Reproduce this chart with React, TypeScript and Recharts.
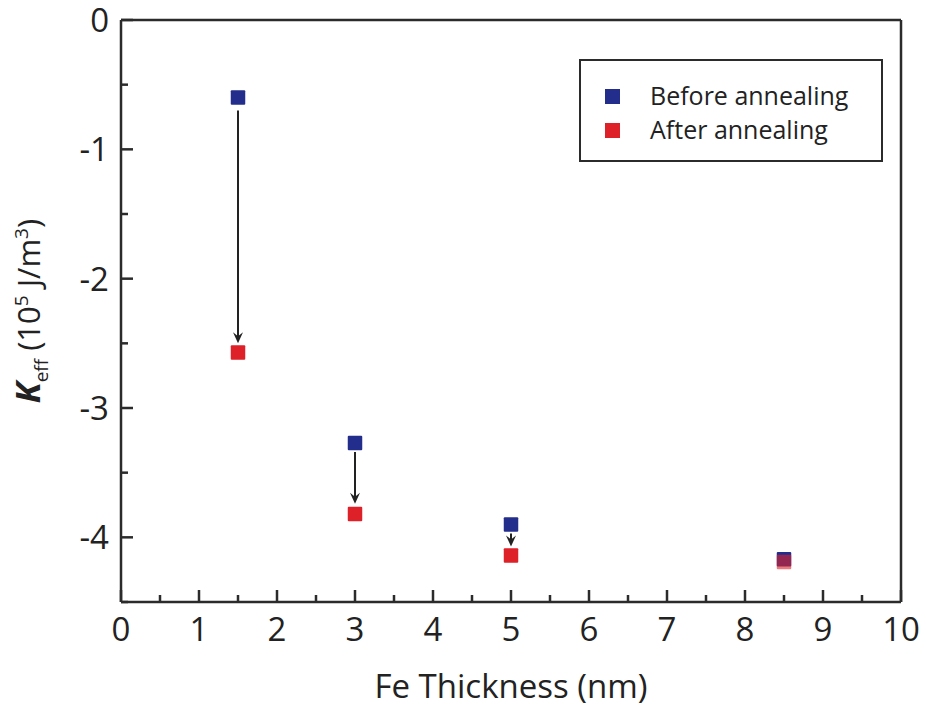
import React from "react";
import {
  ScatterChart,
  Scatter,
  XAxis,
  YAxis,
  ReferenceLine,
  Legend,
  Cell,
} from "recharts";

const thickness = [1.5, 3, 5, 8.5];
const beforeValues = [-0.6, -3.27, -3.9, -4.17];
const afterValues = [-2.57, -3.82, -4.14, -4.19];
const arrowFrom = [-0.7, -3.34, -3.97];
const arrowTo = [-2.5, -3.74, -4.07];
const xTicks = [0, 0.5, 1, 1.5, 2, 2.5, 3, 3.5, 4, 4.5, 5, 5.5, 6, 6.5, 7, 7.5, 8, 8.5, 9, 9.5, 10];
const yTicks = [0, -0.5, -1, -1.5, -2, -2.5, -3, -3.5, -4, -4.5];

const BLUE = "#232E8C";
const RED = "#DE2128";
const AXIS = "#2b2b2b";
const FONT = "'Open Sans', sans-serif";

const beforeData = thickness.map((x, i) => ({ x, y: beforeValues[i] }));
const afterData = thickness.map((x, i) => ({ x, y: afterValues[i] }));

const SquareShape = (props: any) => {
  const { cx, cy, fill, fillOpacity } = props;
  if (cx == null || cy == null) return null;
  const s = 14.5;
  return (
    <rect
      x={cx - s / 2}
      y={cy - s / 2}
      width={s}
      height={s}
      rx={1}
      fill={fill}
      fillOpacity={fillOpacity}
    />
  );
};

const XTick = (props: any) => {
  const { x, y, payload } = props;
  const v = payload.value;
  const major = Math.abs(v - Math.round(v)) < 1e-6;
  return (
    <g>
      <line x1={x} y1={y} x2={x} y2={y - (major ? 12 : 7)} stroke={AXIS} strokeWidth={2.5} />
      {major && (
        <text x={x} y={y + 39} textAnchor="middle" fontFamily={FONT} fontSize={33} fill="#222">
          {String(v)}
        </text>
      )}
    </g>
  );
};

const YTick = (props: any) => {
  const { x, y, payload } = props;
  const v = payload.value;
  const major = Math.abs(v - Math.round(v)) < 1e-6;
  return (
    <g>
      <line x1={x} y1={y} x2={x + (major ? 12 : 7)} y2={y} stroke={AXIS} strokeWidth={2.5} />
      {major && (
        <text x={x - 12} y={y + 12} textAnchor="end" fontFamily={FONT} fontSize={33} fill="#222">
          {String(v)}
        </text>
      )}
    </g>
  );
};

const ArrowShape = (props: any) => {
  const { x1, y1, x2, y2 } = props;
  if (x1 == null) return null;
  return (
    <g>
      <line x1={x1} y1={y1} x2={x2} y2={y2 - 6} stroke="#222" strokeWidth={2} />
      <polygon
        points={`${x2},${y2} ${x2 - 5},${y2 - 11} ${x2},${y2 - 7} ${x2 + 5},${y2 - 11}`}
        fill="#222"
      />
    </g>
  );
};

const YLabel = (props: any) => {
  const vb = props.viewBox || { x: 0, y: 20, width: 121, height: 582 };
  const cx = 40;
  const cy = vb.y + vb.height / 2;
  return (
    <text
      x={cx}
      y={cy}
      textAnchor="middle"
      transform={`rotate(-90 ${cx} ${cy})`}
      fontFamily={FONT}
      fontSize={31}
      fill="#222"
    >
      <tspan fontWeight="bold" fontStyle="italic" fontSize={34}>K</tspan>
      <tspan fontSize={19} dy={8}>eff</tspan>
      <tspan dy={-8}> (10</tspan>
      <tspan fontSize={19} dy={-12}>5</tspan>
      <tspan dy={12}> J/m</tspan>
      <tspan fontSize={19} dy={-12}>3</tspan>
      <tspan dy={12}>)</tspan>
    </text>
  );
};

const XLabel = (props: any) => {
  const vb = props.viewBox || { x: 121, y: 602, width: 780, height: 109 };
  return (
    <text
      x={vb.x + vb.width / 2}
      y={vb.y + 96}
      textAnchor="middle"
      fontFamily={FONT}
      fontSize={33}
      fill="#222"
    >
      Fe Thickness (nm)
    </text>
  );
};

const LegendBox = () => (
  <div
    style={{
      width: 304,
      height: 103,
      border: `2.5px solid ${AXIS}`,
      boxSizing: "border-box",
      background: "#fff",
      fontFamily: FONT,
      fontSize: 25,
      color: "#222",
      position: "relative",
    }}
  >
    {[
      { label: "Before annealing", color: BLUE, top: 35 },
      { label: "After annealing", color: RED, top: 69 },
    ].map((it) => (
      <div key={it.label}>
        <div
          style={{
            position: "absolute",
            left: 24,
            top: it.top - 7.5,
            width: 15,
            height: 15,
            background: it.color,
          }}
        />
        <div
          style={{
            position: "absolute",
            left: 69,
            top: it.top - 18,
            lineHeight: "34px",
            whiteSpace: "nowrap",
          }}
        >
          {it.label}
        </div>
      </div>
    ))}
  </div>
);

export default function App() {
  return (
    <div style={{ position: "absolute", left: 0, top: 0, background: "#fff" }}>
      <ScatterChart
        width={926}
        height={711}
        margin={{ top: 20, right: 25, bottom: 0, left: 0 }}
      >
        <XAxis
          type="number"
          dataKey="x"
          domain={[0, 10]}
          ticks={xTicks}
          interval={0}
          tickSize={0}
          tickMargin={0}
          tickLine={false}
          tick={<XTick />}
          height={109}
          axisLine={{ stroke: AXIS, strokeWidth: 2.5 }}
          allowDataOverflow
          label={<XLabel />}
        />
        <YAxis
          type="number"
          dataKey="y"
          domain={[-4.5, 0]}
          ticks={yTicks}
          interval={0}
          tickSize={0}
          tickMargin={0}
          tickLine={false}
          tick={<YTick />}
          width={121}
          axisLine={{ stroke: AXIS, strokeWidth: 2.5 }}
          allowDataOverflow
          label={<YLabel />}
        />
        <ReferenceLine y={0} stroke={AXIS} strokeWidth={2.5} />
        <ReferenceLine x={10} stroke={AXIS} strokeWidth={2.5} />
        {thickness.slice(0, 3).map((x, i) => (
          <ReferenceLine
            key={`arrow-${i}`}
            segment={[
              { x, y: arrowFrom[i] },
              { x, y: arrowTo[i] },
            ]}
            shape={ArrowShape}
          />
        ))}
        <Scatter
          name="Before annealing"
          data={beforeData}
          fill={BLUE}
          shape={<SquareShape />}
          isAnimationActive={false}
        />
        <Scatter
          name="After annealing"
          data={afterData}
          fill={RED}
          shape={<SquareShape />}
          isAnimationActive={false}
        >
          {afterData.map((d, i) => (
            <Cell key={i} fill={RED} fillOpacity={d.x === 8.5 ? 0.6 : 1} />
          ))}
        </Scatter>
        <Legend
          layout="vertical"
          align="center"
          verticalAlign="middle"
          content={<LegendBox />}
          wrapperStyle={{ position: "absolute", left: 579, top: 59, width: 304, height: 103 }}
        />
      </ScatterChart>
    </div>
  );
}
